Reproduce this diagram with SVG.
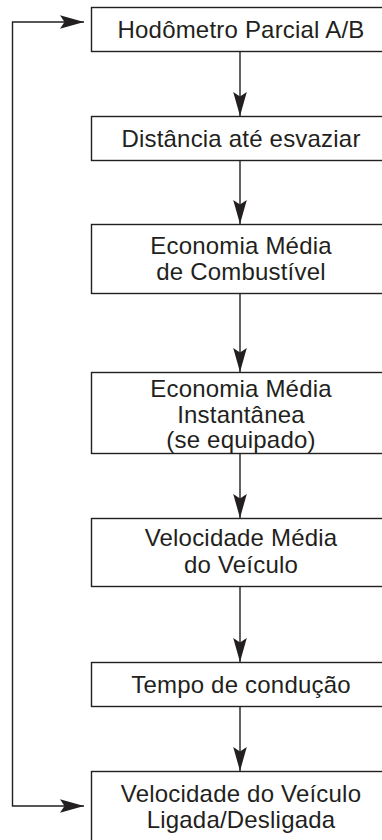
<svg xmlns="http://www.w3.org/2000/svg" width="382" height="840" viewBox="0 0 382 840">
<defs>
<marker id="ah" viewBox="-24 -7 24 14" refX="0" refY="0" markerWidth="24" markerHeight="14" markerUnits="userSpaceOnUse" orient="auto">
<path d="M0,0 L-24,-6.8 L-19.5,0 L-24,6.8 Z" fill="#231f20"/>
</marker>
</defs>
<style>
.box{fill:#fff;stroke:#231f20;stroke-width:1.4}
.t{font-family:"Liberation Sans",Arial,sans-serif;font-size:24px;letter-spacing:0.2px;fill:#231f20;text-anchor:middle}
.c{fill:none;stroke:#231f20;stroke-width:1.4}
</style>
<rect width="382" height="840" fill="#fff"/>
<g id="connectors">
<path class="c" d="M240,51.5 V116" marker-end="url(#ah)"/>
<path class="c" d="M240,160.5 V224" marker-end="url(#ah)"/>
<path class="c" d="M240,293.5 V372" marker-end="url(#ah)"/>
<path class="c" d="M240,453.5 V518" marker-end="url(#ah)"/>
<path class="c" d="M240,586.5 V662" marker-end="url(#ah)"/>
<path class="c" d="M240,706.5 V771" marker-end="url(#ah)"/>
<path class="c" d="M12.5,414 V22 H84" marker-end="url(#ah)"/>
<path class="c" d="M12.5,414 V806 H84" marker-end="url(#ah)"/>
</g>
<g id="n1"><rect class="box" x="91.5" y="7.5" width="300" height="44"/><text class="t" x="241" y="38">Hodômetro Parcial A/B</text></g>
<g id="n2"><rect class="box" x="91.5" y="116.5" width="300" height="44"/><text class="t" x="241" y="147">Distância até esvaziar</text></g>
<g id="n3"><rect class="box" x="91.5" y="224.5" width="300" height="69"/><text class="t" x="241" y="253.5">Economia Média</text><text class="t" x="241" y="279.5">de Combustível</text></g>
<g id="n4"><rect class="box" x="91.5" y="372.5" width="300" height="81"/><text class="t" x="241" y="397">Economia Média</text><text class="t" x="241" y="422.5">Instantânea</text><text class="t" x="241" y="448">(se equipado)</text></g>
<g id="n5"><rect class="box" x="91.5" y="518.5" width="300" height="68"/><text class="t" x="241" y="546">Velocidade Média</text><text class="t" x="241" y="572.5">do Veículo</text></g>
<g id="n6"><rect class="box" x="91.5" y="662.5" width="300" height="44"/><text class="t" x="241" y="693">Tempo de condução</text></g>
<g id="n7"><rect class="box" x="91.5" y="771.5" width="300" height="80"/><text class="t" x="241" y="802">Velocidade do Veículo</text><text class="t" x="241" y="828">Ligada/Desligada</text></g>
</svg>
